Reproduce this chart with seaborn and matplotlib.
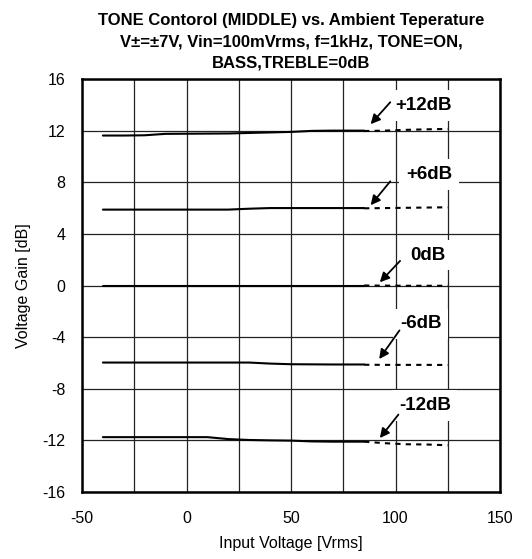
import matplotlib
matplotlib.use("Agg")
import matplotlib.pyplot as plt
import seaborn as sns

temp_solid = [-40, -30, -20, -10, 0, 10, 20, 30, 40, 50, 60, 70, 80, 85]
temp_dash = [85, 95, 105, 115, 125]

p12_solid = [11.62, 11.62, 11.64, 11.75, 11.76, 11.77, 11.78, 11.82, 11.86, 11.9, 11.98, 12.0, 12.0, 12.0]
p12_dash = [11.97, 12.0, 12.06, 12.1, 12.13]
p6_solid = [5.88, 5.88, 5.88, 5.88, 5.88, 5.88, 5.88, 5.95, 6.0, 6.0, 6.0, 6.0, 6.0, 6.0]
p6_dash = [5.98, 6.0, 6.02, 6.04, 6.06]
z_solid = [0.0] * 14
z_dash = [0.0, -0.01, -0.02, -0.02, -0.02]
m6_solid = [-5.97, -5.97, -5.97, -5.97, -5.97, -5.97, -5.97, -5.97, -6.05, -6.1, -6.11, -6.12, -6.12, -6.12]
m6_dash = [-6.14, -6.15, -6.15, -6.15, -6.16]
m12_solid = [-11.75, -11.75, -11.75, -11.75, -11.75, -11.75, -11.9, -11.97, -12.0, -12.02, -12.08, -12.1, -12.1, -12.1]
m12_dash = [-12.1, -12.22, -12.3, -12.32, -12.38]

labels = ["+12dB", "+6dB", "0dB", "-6dB", "-12dB"]
label_pos = [(113.6, 13.95), (116, 8.6), (115.5, 2.34), (112, -2.95), (114, -9.3)]
arrow_tail = [(97.5, 14.2), (97.5, 8.07), (102.2, 1.91), (101.9, -3.48), (101.4, -10.0)]
arrow_head = [(88.1, 12.5), (88.1, 6.22), (92.5, 0.25), (92.2, -5.7), (92.5, -11.82)]

sns.set_style("white")
plt.rcParams["font.family"] = ["Liberation Sans", "DejaVu Sans"]
plt.rcParams["axes.unicode_minus"] = False
plt.rcParams["text.color"] = "black"
plt.rcParams["axes.labelcolor"] = "black"

fig = plt.figure(figsize=(5.32, 5.59), dpi=100)
ax = fig.add_axes([82 / 532, 1 - 492 / 559, 418 / 532, 413 / 559])

solids = [p12_solid, p6_solid, z_solid, m6_solid, m12_solid]
dashes = [p12_dash, p6_dash, z_dash, m6_dash, m12_dash]
for s, d in zip(solids, dashes):
    sns.lineplot(x=temp_solid, y=s, ax=ax, color="black", lw=1.5, zorder=3)
    sns.lineplot(x=temp_dash, y=d, ax=ax, color="black", lw=1.5, zorder=3,
                 linestyle=(0, (2.5, 2.5)))

ax.set_xlim(-50, 150)
ax.set_ylim(-16, 16)
ax.set_xticks([-50, 0, 50, 100, 150])
ax.set_xticks([-25, 25, 75, 125], minor=True)
ax.set_yticks(range(-16, 17, 4))
ax.grid(True, which="both", color="#222222", lw=0.9, zorder=1)
ax.set_axisbelow(True)
ax.tick_params(axis="both", which="both", length=0, labelsize=11.5, colors="black")
ax.tick_params(axis="x", pad=14)
ax.tick_params(axis="y", pad=12)
for sp in ax.spines.values():
    sp.set_color("black")
    sp.set_linewidth(1.8)

for lab, pos, tail, head in zip(labels, label_pos, arrow_tail, arrow_head):
    ax.text(pos[0], pos[1], lab, ha="center", va="center", fontsize=13.5,
            fontweight="bold", zorder=4,
            bbox=dict(facecolor="white", edgecolor="none", boxstyle="square,pad=0.35"))
    ax.annotate("", xy=head, xytext=tail, zorder=5,
                arrowprops=dict(arrowstyle="-|>", color="black", lw=1.3,
                                mutation_scale=14, shrinkA=0, shrinkB=0))

ax.set_title("TONE Contorol (MIDDLE) vs. Ambient Teperature\n"
             "V\u00b1=\u00b17V, Vin=100mVrms, f=1kHz, TONE=ON,\nBASS,TREBLE=0dB",
             fontsize=12, fontweight="bold", linespacing=1.55, pad=8)
ax.set_xlabel("Input Voltage [Vrms]", fontsize=11.5, labelpad=7)
ax.set_ylabel("Voltage Gain [dB]", fontsize=11.5, labelpad=8)

fig.savefig("out.png", dpi=100)
